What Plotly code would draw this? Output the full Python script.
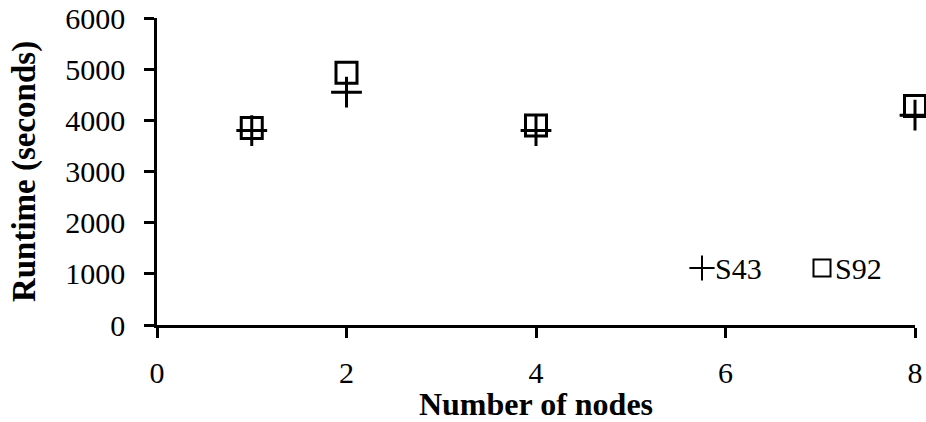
import plotly.graph_objects as go

# Runtime measurements per cluster size
nodes = [1, 2, 4, 8]
s43_runtime = [3800, 4550, 3800, 4100]
s92_runtime = [3850, 4930, 3900, 4280]
series_names = ["S43", "S92"]

x_ticks = [0, 2, 4, 6, 8]
y_ticks = [0, 1000, 2000, 3000, 4000, 5000, 6000]

FONT = "Liberation Serif, Times New Roman, serif"
W, H = 926, 422
L, R, T, B = 157, 11, 18, 97

plus_marker = dict(symbol="cross-thin", size=22, color="black",
                   line=dict(color="black", width=3))
square_marker = dict(symbol="square-open", size=21, color="black",
                     line=dict(color="black", width=3))

fig = go.Figure()
fig.add_trace(go.Scatter(x=nodes, y=s43_runtime, name=series_names[0],
                         mode="markers", marker=plus_marker, cliponaxis=False))
fig.add_trace(go.Scatter(x=nodes, y=s92_runtime, name=series_names[1],
                         mode="markers", marker=square_marker, cliponaxis=False))

# Legend keys drawn on a pixel-scaled overlay axis pair inside the plot area
key_x = [702, 822]
key_y = [268, 268]
fig.add_trace(go.Scatter(
    x=key_x[:1], y=key_y[:1], xaxis="x2", yaxis="y2", mode="markers",
    marker=dict(symbol="cross-thin", size=18, color="black",
                line=dict(color="black", width=2)),
    showlegend=False, cliponaxis=False, hoverinfo="skip"))
fig.add_trace(go.Scatter(
    x=key_x[1:], y=key_y[1:], xaxis="x2", yaxis="y2", mode="markers",
    marker=dict(symbol="square-open", size=17, color="black",
                line=dict(color="black", width=2)),
    showlegend=False, cliponaxis=False, hoverinfo="skip"))
for kx, ky, name in zip(key_x, key_y, series_names):
    fig.add_annotation(x=kx + 11, y=ky, xref="x2", yref="y2", text=name,
                       showarrow=False, xanchor="left", yanchor="middle",
                       font=dict(family=FONT, size=30, color="black"))

axis_common = dict(
    showgrid=False, zeroline=False, showline=True, linecolor="black",
    linewidth=2.5, ticks="outside", ticklen=10, tickwidth=2.5, tickcolor="black",
    tickfont=dict(family=FONT, size=30, color="black"), automargin=False,
)

fig.update_layout(
    width=W, height=H,
    margin=dict(l=L, r=R, t=T, b=B),
    paper_bgcolor="white", plot_bgcolor="white",
    font=dict(family=FONT, color="black"),
    showlegend=False,
    xaxis=dict(range=[0, 8], tickvals=x_ticks, ticklabelstandoff=9,
               title=dict(text="<b>Number of nodes</b>", standoff=10,
                          font=dict(family=FONT, size=32, color="black")),
               **axis_common),
    yaxis=dict(range=[0, 6000], tickvals=y_ticks, ticklabelstandoff=13,
               title=dict(text="<b>Runtime (seconds)</b>", standoff=20,
                          font=dict(family=FONT, size=33, color="black")),
               **axis_common),
    xaxis2=dict(range=[L, W - R], overlaying="x", visible=False, fixedrange=True),
    yaxis2=dict(range=[H - B, T], overlaying="y", visible=False, fixedrange=True),
)

fig.write_html("out.html")
